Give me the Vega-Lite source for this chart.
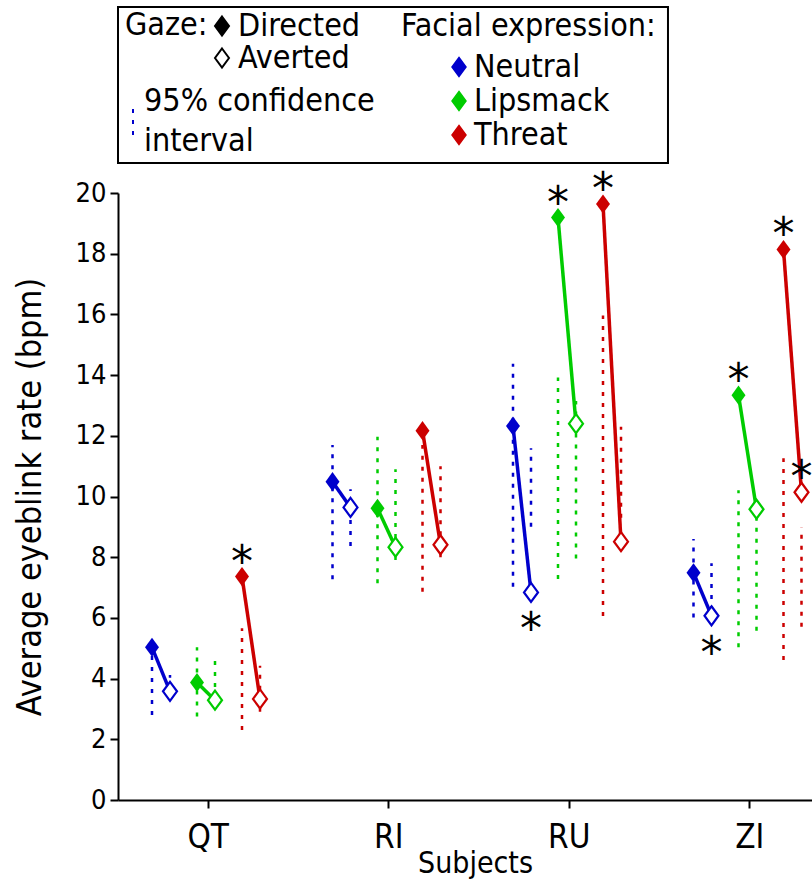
{
  "$schema": "https://vega.github.io/schema/vega-lite/v6.json",
  "autosize": {"type": "none"},
  "padding": {"left": 118, "top": 193, "right": 0, "bottom": 84},
  "width": 694,
  "height": 607,
  "config": {
    "view": {"stroke": null},
    "font": "DejaVu Sans Condensed",
    "axis": {"domainColor": "black", "tickColor": "black", "domainWidth": 2, "tickWidth": 2, "labelColor": "black", "titleColor": "black", "grid": false, "titleFontWeight": "normal", "tickSize": 8},
    "legend": {"titleFontWeight": "normal", "titleColor": "black", "labelColor": "black", "padding": 0, "symbolOpacity": 1, "labelLimit": 0, "titleLimit": 0}
  },
  "data": {
    "values": [
      {"subject": "QT", "expression": "Neutral", "gaze": "Directed", "mean": 5.03, "lo": 2.8, "hi": 5.0, "sig": ""},
      {"subject": "QT", "expression": "Neutral", "gaze": "Averted", "mean": 3.58, "lo": 3.3, "hi": 4.12, "sig": ""},
      {"subject": "QT", "expression": "Lipsmack", "gaze": "Directed", "mean": 3.87, "lo": 2.75, "hi": 5.03, "sig": ""},
      {"subject": "QT", "expression": "Lipsmack", "gaze": "Averted", "mean": 3.29, "lo": 3.0, "hi": 4.58, "sig": ""},
      {"subject": "QT", "expression": "Threat", "gaze": "Directed", "mean": 7.36, "lo": 2.31, "hi": 5.66, "sig": "above"},
      {"subject": "QT", "expression": "Threat", "gaze": "Averted", "mean": 3.33, "lo": 2.91, "hi": 4.42, "sig": ""},
      {"subject": "RI", "expression": "Neutral", "gaze": "Directed", "mean": 10.49, "lo": 7.27, "hi": 11.7, "sig": ""},
      {"subject": "RI", "expression": "Neutral", "gaze": "Averted", "mean": 9.64, "lo": 8.37, "hi": 10.24, "sig": ""},
      {"subject": "RI", "expression": "Lipsmack", "gaze": "Directed", "mean": 9.61, "lo": 7.14, "hi": 11.97, "sig": ""},
      {"subject": "RI", "expression": "Lipsmack", "gaze": "Averted", "mean": 8.33, "lo": 7.91, "hi": 10.9, "sig": ""},
      {"subject": "RI", "expression": "Threat", "gaze": "Directed", "mean": 12.17, "lo": 6.86, "hi": 11.7, "sig": ""},
      {"subject": "RI", "expression": "Threat", "gaze": "Averted", "mean": 8.41, "lo": 8.0, "hi": 11.0, "sig": ""},
      {"subject": "RU", "expression": "Neutral", "gaze": "Directed", "mean": 12.32, "lo": 7.03, "hi": 14.37, "sig": ""},
      {"subject": "RU", "expression": "Neutral", "gaze": "Averted", "mean": 6.84, "lo": 9.0, "hi": 11.59, "sig": "below"},
      {"subject": "RU", "expression": "Lipsmack", "gaze": "Directed", "mean": 19.19, "lo": 7.28, "hi": 13.92, "sig": "above"},
      {"subject": "RU", "expression": "Lipsmack", "gaze": "Averted", "mean": 12.4, "lo": 7.96, "hi": 13.15, "sig": ""},
      {"subject": "RU", "expression": "Threat", "gaze": "Directed", "mean": 19.64, "lo": 6.06, "hi": 15.96, "sig": "above"},
      {"subject": "RU", "expression": "Threat", "gaze": "Averted", "mean": 8.51, "lo": 9.3, "hi": 12.3, "sig": ""},
      {"subject": "ZI", "expression": "Neutral", "gaze": "Directed", "mean": 7.49, "lo": 6.01, "hi": 8.6, "sig": ""},
      {"subject": "ZI", "expression": "Neutral", "gaze": "Averted", "mean": 6.07, "lo": 5.9, "hi": 7.8, "sig": "below"},
      {"subject": "ZI", "expression": "Lipsmack", "gaze": "Directed", "mean": 13.34, "lo": 5.03, "hi": 10.21, "sig": "above"},
      {"subject": "ZI", "expression": "Lipsmack", "gaze": "Averted", "mean": 9.58, "lo": 5.58, "hi": 9.3, "sig": ""},
      {"subject": "ZI", "expression": "Threat", "gaze": "Directed", "mean": 18.14, "lo": 4.61, "hi": 11.26, "sig": "above"},
      {"subject": "ZI", "expression": "Threat", "gaze": "Averted", "mean": 10.14, "lo": 5.71, "hi": 8.98, "sig": "above"}
    ]
  },
  "transform": [{"calculate": "datum.expression + '|' + datum.gaze", "as": "cond"}],
  "layer": [
    {
      "data": {"values": [{"item": "legend frame"}]},
      "mark": {"type": "rect", "fill": "white", "stroke": "black", "strokeWidth": 2, "clip": false},
      "encoding": {
        "x": {"datum": "QT", "type": "nominal", "bandPosition": 0},
        "x2": {"datum": "ZI", "bandPosition": 0.047},
        "y": {"datum": 26.13, "type": "quantitative"},
        "y2": {"datum": 20.99}
      }
    },
    {
      "mark": {"type": "rule", "strokeWidth": 2.5},
      "encoding": {
        "x": {
          "field": "subject", "type": "nominal",
          "scale": {"domain": ["QT", "RI", "RU", "ZI"], "range": [0, 722], "paddingInner": 0, "paddingOuter": 0},
          "axis": {"title": "Subjects", "labelAngle": 0, "labelAlign": "center", "labelBaseline": "top", "labelFontSize": 33, "titleFontSize": 30, "labelPadding": 13, "titlePadding": -6, "titleX": 357}
        },
        "xOffset": {
          "field": "cond", "type": "nominal",
          "scale": {"type": "point", "padding": 0, "range": [34, 142], "domain": ["Neutral|Directed", "s1", "Neutral|Averted", "s3", "s4", "Lipsmack|Directed", "s6", "Lipsmack|Averted", "s8", "s9", "Threat|Directed", "s11", "Threat|Averted"]}
        },
        "y": {
          "field": "lo", "type": "quantitative",
          "scale": {"domain": [0, 20], "nice": false, "zero": false},
          "axis": {"title": "Average eyeblink rate (bpm)", "values": [0, 2, 4, 6, 8, 10, 12, 14, 16, 18, 20], "labelFontSize": 27, "titleFontSize": 34, "labelPadding": 4, "titlePadding": 28}
        },
        "y2": {"field": "hi"},
        "color": {
          "field": "expression", "type": "nominal",
          "scale": {"domain": ["Neutral", "Lipsmack", "Threat"], "range": ["#0000CC", "#00CC00", "#CC0000"]},
          "legend": {
            "title": "Facial expression:", "orient": "none", "legendX": 283, "legendY": -182,
            "titleFontSize": 32, "labelFontSize": 32, "symbolType": "M0,-1.36L1,0L0,1.36L-1,0Z", "symbolSize": 196,
            "symbolOffset": 42, "rowPadding": 2, "titlePadding": 8, "labelOffset": -1,
            "symbolStrokeColor": "transparent"
          }
        },
        "strokeDash": {
          "datum": "95% confidence interval",
          "type": "nominal",
          "scale": {"range": [[4, 7]]},
          "legend": {
            "title": null, "orient": "none", "legendX": -1, "legendY": -87,
            "symbolType": "M0,-1L0,1", "symbolSize": 676, "symbolStrokeColor": "#0000CC", "symbolStrokeWidth": 2,
            "labelFontSize": 32, "labelOffset": -5, "labelBaseline": "line-bottom",
            "labelExpr": "['95% confidence', 'interval']",
            "encoding": {"labels": {"lineHeight": {"value": 40}}}
          }
        }
      }
    },
    {
      "mark": {"type": "line", "strokeWidth": 3.5},
      "encoding": {
        "x": {"field": "subject", "type": "nominal"},
        "xOffset": {"field": "cond", "type": "nominal"},
        "y": {"field": "mean", "type": "quantitative"},
        "color": {"field": "expression", "type": "nominal"},
        "detail": [{"field": "subject"}, {"field": "expression"}]
      }
    },
    {
      "transform": [{"filter": "datum.gaze === 'Directed'"}],
      "mark": {"type": "point", "filled": true, "size": 196, "opacity": 1},
      "encoding": {
        "x": {"field": "subject", "type": "nominal"},
        "xOffset": {"field": "cond", "type": "nominal"},
        "y": {"field": "mean", "type": "quantitative"},
        "color": {"field": "expression", "type": "nominal"},
        "shape": {
          "field": "gaze", "type": "nominal",
          "scale": {"domain": ["Directed", "Averted"], "range": ["M0,-1.36L1,0L0,1.36L-1,0Z", "M0,-1.36L1,0L0,1.36L-1,0Z"]},
          "legend": {
            "title": "Gaze:", "titleOrient": "left", "titleAnchor": "start", "titleBaseline": "top", "orient": "none", "legendX": 7, "legendY": -183,
            "titleFontSize": 32, "labelFontSize": 32, "symbolSize": 196, "rowPadding": -8, "titlePadding": -2, "labelOffset": 0,
            "encoding": {"symbols": {"fill": {"condition": {"test": "datum.value === 'Averted'", "value": "white"}, "value": "black"}, "stroke": {"value": "black"}, "strokeWidth": {"value": 2}}}
          }
        }
      }
    },
    {
      "transform": [{"filter": "datum.gaze === 'Averted'"}],
      "mark": {"type": "point", "filled": false, "fill": "white", "strokeWidth": 2.2, "size": 196, "opacity": 1, "shape": "M0,-1.36L1,0L0,1.36L-1,0Z"},
      "encoding": {
        "x": {"field": "subject", "type": "nominal"},
        "xOffset": {"field": "cond", "type": "nominal"},
        "y": {"field": "mean", "type": "quantitative"},
        "color": {"field": "expression", "type": "nominal"}
      }
    },
    {
      "transform": [{"filter": "datum.sig === 'above'"}],
      "mark": {"type": "text", "text": "*", "fontSize": 44, "baseline": "alphabetic", "dy": 0, "color": "black", "font": "DejaVu Sans"},
      "encoding": {
        "x": {"field": "subject", "type": "nominal"},
        "xOffset": {"field": "cond", "type": "nominal"},
        "y": {"field": "mean", "type": "quantitative"}
      }
    },
    {
      "transform": [{"filter": "datum.sig === 'below'"}],
      "mark": {"type": "text", "text": "*", "fontSize": 44, "baseline": "alphabetic", "dy": 52, "color": "black", "font": "DejaVu Sans"},
      "encoding": {
        "x": {"field": "subject", "type": "nominal"},
        "xOffset": {"field": "cond", "type": "nominal"},
        "y": {"field": "mean", "type": "quantitative"}
      }
    }
  ]
}
